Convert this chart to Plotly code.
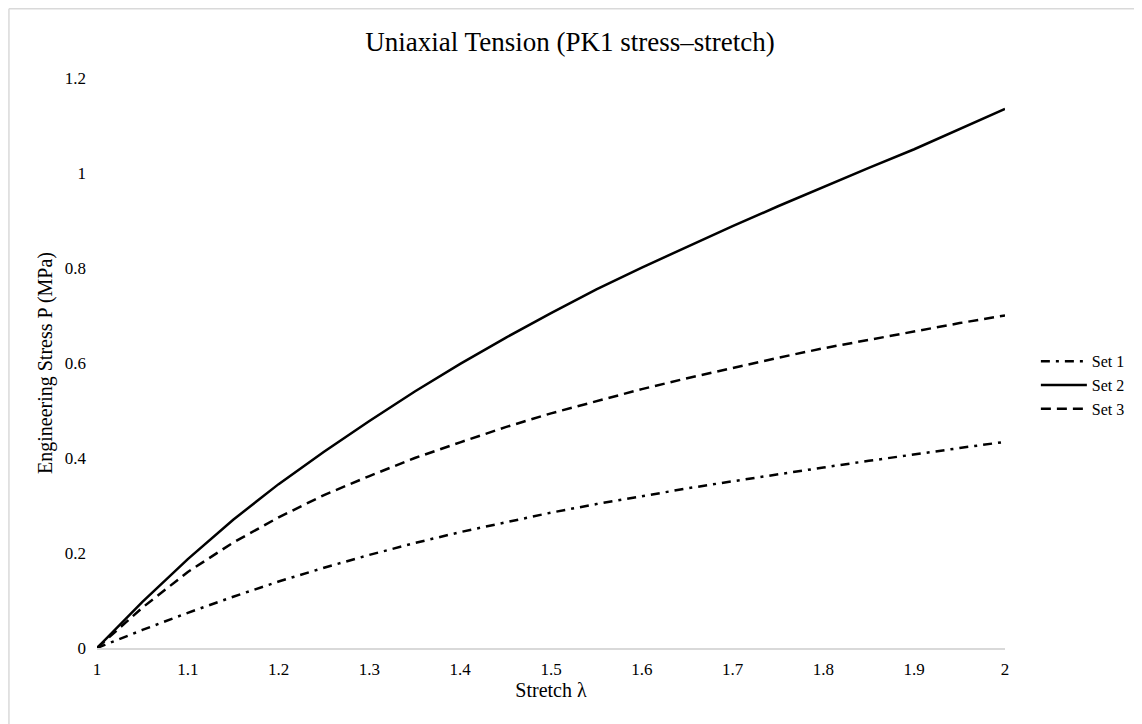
import plotly.graph_objects as go

stretch = [1.00, 1.05, 1.10, 1.15, 1.20, 1.25, 1.30, 1.35, 1.40, 1.45, 1.50,
           1.55, 1.60, 1.65, 1.70, 1.75, 1.80, 1.85, 1.90, 1.95, 2.00]
set1 = [0, 0.038, 0.074, 0.108, 0.140, 0.169, 0.196, 0.221, 0.244, 0.265, 0.285,
        0.303, 0.320, 0.336, 0.351, 0.366, 0.380, 0.394, 0.408, 0.421, 0.434]
set2 = [0, 0.097, 0.187, 0.270, 0.345, 0.413, 0.478, 0.540, 0.598, 0.653, 0.705,
        0.755, 0.801, 0.845, 0.888, 0.930, 0.971, 1.011, 1.050, 1.093, 1.135]
set3 = [0, 0.085, 0.160, 0.222, 0.275, 0.322, 0.362, 0.400, 0.433, 0.465, 0.494,
        0.520, 0.545, 0.568, 0.590, 0.611, 0.631, 0.649, 0.667, 0.684, 0.700]

x_ticks = [1, 1.1, 1.2, 1.3, 1.4, 1.5, 1.6, 1.7, 1.8, 1.9, 2]
x_tick_labels = ["1", "1.1", "1.2", "1.3", "1.4", "1.5", "1.6", "1.7", "1.8", "1.9", "2"]
y_ticks = [0, 0.2, 0.4, 0.6, 0.8, 1.0, 1.2]
y_tick_labels = ["0", "0.2", "0.4", "0.6", "0.8", "1", "1.2"]

FONT = "Liberation Serif, Times New Roman, serif"

W, H = 1134, 716
L, R, T, B = 89, 135, 70, 76
PW, PH = W - L - R, H - T - B

fig = go.Figure()
fig.add_trace(go.Scatter(x=stretch, y=set1, mode="lines", name="Set 1",
                         line=dict(color="black", width=2.5, dash="9px,6px,3px,6px")))
fig.add_trace(go.Scatter(x=stretch, y=set2, mode="lines", name="Set 2",
                         line=dict(color="black", width=2.5)))
fig.add_trace(go.Scatter(x=stretch, y=set3, mode="lines", name="Set 3",
                         line=dict(color="black", width=2.5, dash="10px,6px")))

left_x = (-L + 0.75) / PW
top_y = (PH + T - 0.75) / PH
fig.update_layout(
    width=W, height=H,
    paper_bgcolor="white", plot_bgcolor="white",
    margin=dict(l=L, r=R, t=T, b=B),
    font=dict(family=FONT, color="black", size=17),
    title=dict(text="Uniaxial Tension (PK1 stress–stretch)", x=0.4956, xanchor="center",
               xref="container", y=0.9525, yanchor="middle",
               font=dict(family=FONT, size=27, color="black")),
    showlegend=True,
    legend=dict(x=1.034, xanchor="left", y=0.461, yanchor="middle",
                font=dict(family=FONT, size=16, color="black"),
                bgcolor="rgba(0,0,0,0)", tracegroupgap=0, itemwidth=46),
    shapes=[
        dict(type="line", xref="paper", yref="paper", x0=left_x, x1=1.5,
             y0=top_y, y1=top_y, line=dict(color="#d9d9d9", width=1.5), layer="below"),
        dict(type="line", xref="paper", yref="paper", x0=left_x, x1=left_x,
             y0=-0.5, y1=top_y, line=dict(color="#d9d9d9", width=1.5), layer="below"),
    ],
)
fig.update_xaxes(range=[1, 2], tickvals=x_ticks, ticktext=x_tick_labels,
                 showgrid=False, zeroline=False, showline=True, linecolor="#d9d9d9",
                 linewidth=1.5, ticks="", ticklabelstandoff=5,
                 title=dict(text="Stretch λ", font=dict(family=FONT, size=20), standoff=5),
                 tickfont=dict(family=FONT, size=17))
fig.update_yaxes(range=[0, 1.2], tickvals=y_ticks, ticktext=y_tick_labels,
                 showgrid=False, zeroline=False, showline=False, ticks="",
                 ticklabelstandoff=10,
                 title=dict(text="Engineering Stress P (MPa)", font=dict(family=FONT, size=20), standoff=6),
                 tickfont=dict(family=FONT, size=17))

fig.write_html("out.html")
